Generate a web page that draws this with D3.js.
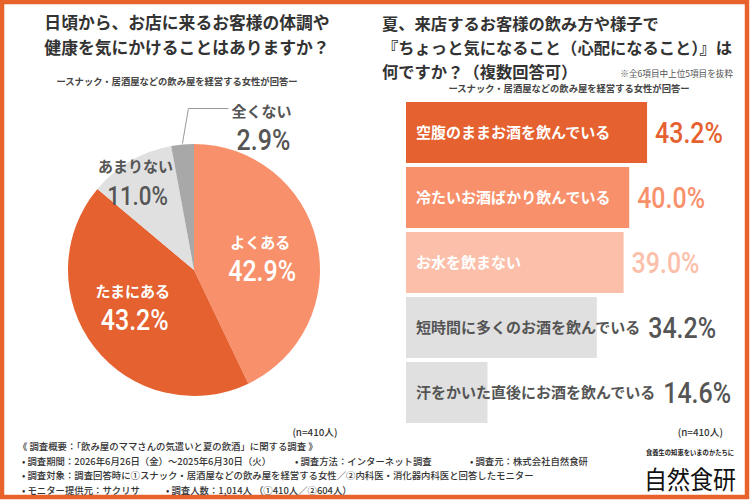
<!DOCTYPE html>
<html>
<head>
<meta charset="utf-8">
<script src="https://cdn.jsdelivr.net/npm/d3@7"></script>
<style>
    body { margin: 0; background: #fff; }
    text { font-family: "Noto Sans CJK JP", sans-serif; }
    .num { font-family: Roboto, "DejaVu Sans", sans-serif; font-weight: 500; }
</style>
</head>
<body>
<svg id="chart" width="750" height="500"></svg>
<script>
// left: pie
let pieCategories = ["よくある", "たまにある", "あまりない", "全くない"];
let pieValues = [42.9, 43.2, 11.0, 2.9];

// right: bars
let barCategories = [
    "空腹のままお酒を飲んでいる",
    "冷たいお酒ばかり飲んでいる",
    "お水を飲まない",
    "短時間に多くのお酒を飲んでいる",
    "汗をかいた直後にお酒を飲んでいる"
];
let barValues = [43.2, 40.0, 39.0, 34.2, 14.6];

let sampleNote = "(n=410人)";

let footerLines = [
    "《 調査概要：「飲み屋のママさんの気遣いと夏の飲酒」に関する調査 》",
    "• 調査期間：2026年6月26日（金）～2025年6月30日（火）",
    "• 調査対象：調査回答時に①スナック・居酒屋などの飲み屋を経営する女性／②内科医・消化器内科医と回答したモニター",
    "• モニター提供元：サクリサ"
];

let svg = d3.select("#chart");

let orange = "#e5612f";
let pieColor = d3.scaleOrdinal()
    .domain(pieCategories)
    .range([ "#f8916b", orange, "#e0e0e0", "#a8a8a8"]);
let barColor = d3.scaleOrdinal()
    .domain(barCategories)
    .range([orange, "#f8916b", "#fcc0aa", "#e0e0e0", "#e0e0e0"]);
let barTextColor = ["#fff", "#fff", "#fff", "#555", "#555"];
let barNumColor = [orange, "#f8916b", "#fcc0aa", "#555", "#555"];

// condensed look for the DIN style numbers
function squeeze(sel, k) {
    sel.each(function () {
        let w = this.getComputedTextLength();
        d3.select(this).attr("textLength", w * k).attr("lengthAdjust", "spacingAndGlyphs");
    });
}

// frame
svg.append("rect")
    .attr("x", 2).attr("y", 2)
    .attr("width", 745).attr("height", 495)
    .attr("fill", "none")
    .attr("stroke", "#e8622c")
    .attr("stroke-width", 4.5);

// titles
let leftTitle = ["日頃から、お店に来るお客様の体調や", "健康を気にかけることはありますか？"];
svg.selectAll(".ltitle").data(leftTitle).enter()
    .append("text")
    .attr("x", 187)
    .attr("y", (d, i) => 29 + i * 25)
    .attr("text-anchor", "middle")
    .attr("font-size", 16.8)
    .attr("font-weight", 700)
    .attr("fill", "#333")
    .text(d => d);

let rightTitle = ["夏、来店するお客様の飲み方や様子で", "『ちょっと気になること（心配になること）』は", "何ですか？（複数回答可）"];
svg.selectAll(".rtitle").data(rightTitle).enter()
    .append("text")
    .attr("x", 382)
    .attr("y", (d, i) => 30 + i * 24)
    .attr("font-size", 16.3)
    .attr("font-weight", 700)
    .attr("fill", "#333")
    .text(d => d);

svg.append("text")
    .attr("x", 733).attr("y", 76.5)
    .attr("text-anchor", "end")
    .attr("font-size", 8.6)
    .attr("fill", "#555")
    .text("※全6項目中上位5項目を抜粋");

let subTitle = "ースナック・居酒屋などの飲み屋を経営する女性が回答ー";
[[177, 85], [569, 92]].forEach(p => {
    svg.append("text")
        .attr("x", p[0]).attr("y", p[1])
        .attr("text-anchor", "middle")
        .attr("font-size", 9.3)
        .attr("font-weight", 700)
        .attr("fill", "#444")
        .text(subTitle);
});

// ---- pie ----
let cx = 194, cy = 270, radius = 126;
let pie = d3.pie().sort(null).value(d => d.value);
let arcs = pie(pieCategories.map((c, i) => ({ name: c, value: pieValues[i] })));
let arc = d3.arc().innerRadius(0).outerRadius(radius);

let pieG = svg.append("g").attr("transform", `translate(${cx},${cy})`);
pieG.selectAll("path").data(arcs).enter()
    .append("path")
    .attr("d", arc)
    .attr("fill", d => pieColor(d.data.name));

// label spots: radius of centroid and a small nudge
let labelSpot = [
    { r: 75, dx: -7, dy: 4 },
    { r: 75, dx: -2, dy: -10 },
    { r: 110, dx: -3, dy: 6 },
    null
];
let labelPts = arcs.map((d, i) => {
    let s = labelSpot[i];
    if (s === null) return null;
    let c = d3.arc().innerRadius(s.r).outerRadius(s.r).centroid(d);
    return [c[0] + s.dx, c[1] + s.dy];
});

// leader for the small slice
let small = arcs[3];
let edge = d3.arc().innerRadius(radius + 1).outerRadius(radius + 1).centroid(small);
let elbow = [edge[0] + 6, edge[1] - 35];
let tail = [elbow[0] + 40, elbow[1]];
pieG.append("polyline")
    .attr("points", [edge, elbow, tail].map(p => p.join(",")).join(" "))
    .attr("fill", "none")
    .attr("stroke", "#999")
    .attr("stroke-width", 1);
labelPts[3] = [tail[0] + 33, tail[1] + 17];
let labelColors = ["#fff", "#fff", "#555", "#555"];

arcs.forEach((d, i) => {
    let p = labelPts[i];
    pieG.append("text")
        .attr("x", p[0]).attr("y", p[1] - 9)
        .attr("text-anchor", "middle")
        .attr("font-size", 15)
        .attr("font-weight", 700)
        .attr("fill", labelColors[i])
        .text(d.data.name);
    pieG.append("text")
        .attr("class", "num")
        .attr("x", p[0] + 2).attr("y", p[1] + 24)
        .attr("text-anchor", "middle")
        .attr("font-size", i === 2 ? 26 : 29)
        .attr("fill", labelColors[i])
        .text(d.data.value.toFixed(1) + "%")
        .call(squeeze, 0.86);
});

svg.append("text")
    .attr("x", 315).attr("y", 436)
    .attr("text-anchor", "middle")
    .attr("font-size", 9.8)
    .attr("font-weight", 500)
    .attr("fill", "#333")
    .text(sampleNote);

// ---- bars ----
let x = d3.scaleLinear().domain([0, 100]).range([406, 964]);
let y = d3.scaleBand()
    .domain(barCategories)
    .range([102, 423])
    .paddingInner(0.0615);

let barG = svg.append("g");
barG.selectAll("rect").data(barCategories).enter()
    .append("rect")
    .attr("x", x(0))
    .attr("y", d => y(d))
    .attr("width", (d, i) => x(barValues[i]) - x(0))
    .attr("height", y.bandwidth())
    .attr("fill", d => barColor(d));

let catText = barG.selectAll(".cat").data(barCategories).enter()
    .append("text")
    .attr("class", "cat")
    .attr("x", x(0) + 10)
    .attr("y", d => y(d) + y.bandwidth() / 2 + 5.5)
    .attr("font-size", 15)
    .attr("font-weight", 700)
    .attr("fill", (d, i) => barTextColor[i])
    .text(d => d);

let textEnds = [];
catText.each(function () {
    textEnds.push(+this.getAttribute("x") + this.getComputedTextLength());
});

barG.selectAll(".val").data(barCategories).enter()
    .append("text")
    .attr("class", "num")
    .attr("x", (d, i) => Math.max(x(barValues[i]), textEnds[i]) + 8)
    .attr("y", d => y(d) + y.bandwidth() / 2 + 10.5)
    .attr("font-size", 29)
    .attr("fill", (d, i) => barNumColor[i])
    .text((d, i) => barValues[i].toFixed(1) + "%")
    .call(squeeze, 0.86);

svg.append("text")
    .attr("x", 723).attr("y", 436)
    .attr("text-anchor", "end")
    .attr("font-size", 9.8)
    .attr("font-weight", 500)
    .attr("fill", "#333")
    .text(sampleNote);

// ---- footer ----
let footY = [450, 465, 479, 494];
svg.selectAll(".foot").data(footerLines).enter()
    .append("text")
    .attr("x", (d, i) => i === 0 ? 18 : 22)
    .attr("y", (d, i) => footY[i])
    .attr("font-size", 9.4)
    .attr("font-weight", 500)
    .attr("fill", "#333")
    .text(d => d);

let footExtra = [
    ["• 調査方法：インターネット調査", 295, footY[1]],
    ["• 調査元：株式会社自然食研", 470, footY[1]],
    ["• 調査人数：1,014人 （①410人／②604人）", 166, footY[3]]
];
footExtra.forEach(f => {
    svg.append("text")
        .attr("x", f[1]).attr("y", f[2])
        .attr("font-size", 9.4)
        .attr("font-weight", 500)
        .attr("fill", "#333")
        .text(f[0]);
});

// logo
svg.append("text")
    .attr("x", 690).attr("y", 455)
    .attr("text-anchor", "middle")
    .attr("font-size", 6.3)
    .attr("font-weight", 700)
    .attr("fill", "#222")
    .text("食養生の知恵をいまのかたちに");
svg.append("text")
    .attr("transform", "translate(690,489) scale(1,1.1)")
    .attr("text-anchor", "middle")
    .attr("font-size", 23)
    .attr("font-weight", 400)
    .attr("fill", "#111")
    .text("自然食研");
</script>
</body>
</html>
